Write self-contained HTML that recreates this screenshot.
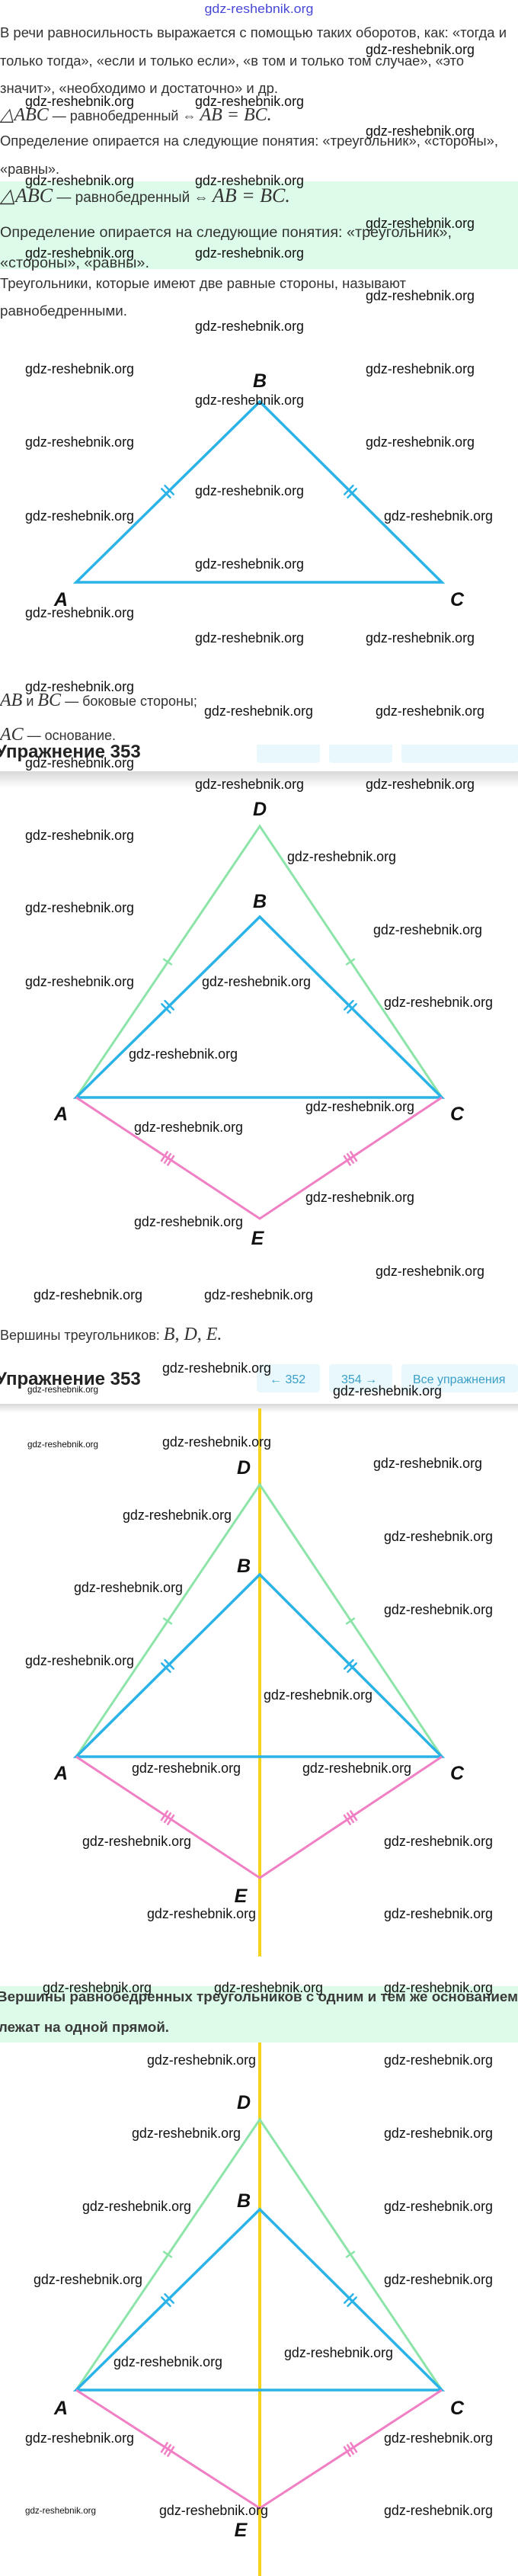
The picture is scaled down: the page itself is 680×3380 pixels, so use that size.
<!DOCTYPE html>
<html><head><meta charset="utf-8"><style>
html,body{margin:0;padding:0;background:#fff;}
svg{display:block;}
.t{font-family:"Liberation Sans",sans-serif;font-size:18px;fill:#333;}
.m{font-family:"Liberation Serif",serif;font-size:24px;font-style:italic;fill:#333;}
.w{font-family:"Liberation Sans",sans-serif;font-size:18px;fill:#111;}
.ws{font-family:"Liberation Sans",sans-serif;font-size:12px;fill:#111;}
.L{font-family:"Liberation Sans",sans-serif;font-size:25px;font-weight:bold;font-style:italic;fill:#111;}
.h{font-family:"Liberation Sans",sans-serif;font-size:24px;font-weight:bold;fill:#222;}
.b{font-family:"Liberation Sans",sans-serif;font-size:16px;fill:#3a9fc8;}
.bl{stroke:#2bb3e8;stroke-width:3.5;fill:none;stroke-linecap:round;}
.gr{stroke:#8ce4a8;stroke-width:3;fill:none;}
.pk{stroke:#f07fc4;stroke-width:3;fill:none;}
.ye{stroke:#f3d31c;stroke-width:4;}
</style></head><body>
<svg width="680" height="3380" viewBox="0 0 680 3380" xmlns="http://www.w3.org/2000/svg">
<defs>
<linearGradient id="sh" x1="0" y1="0" x2="0" y2="1"><stop offset="0" stop-color="#d8d8d8"/><stop offset="1" stop-color="#fff"/></linearGradient>
<clipPath id="c1"><rect x="0" y="977" width="680" height="40"/></clipPath>
<clipPath id="c2"><rect x="0" y="2608" width="680" height="80"/></clipPath>
</defs>

<!-- top -->
<text x="340" y="17" text-anchor="middle" textLength="143" lengthAdjust="spacingAndGlyphs" style="font-family:'Liberation Sans',sans-serif;font-size:17px;fill:#4848d8">gdz-reshebnik.org</text>
<text class="t" x="0" y="49" textLength="665" lengthAdjust="spacingAndGlyphs">В речи равносильность выражается с помощью таких оборотов, как: «тогда и</text>
<text class="t" x="0" y="86" textLength="609" lengthAdjust="spacingAndGlyphs">только тогда», «если и только если», «в том и только том случае», «это</text>
<text class="t" x="0" y="122" textLength="365" lengthAdjust="spacingAndGlyphs">значит», «необходимо и достаточно» и др.</text>
<text x="0" y="158"><tspan class="m">△ABC</tspan><tspan class="t"> — равнобедренный ⇔ </tspan><tspan class="m"> AB = BC.</tspan></text>
<text class="t" x="0" y="191" textLength="654" lengthAdjust="spacingAndGlyphs">Определение опирается на следующие понятия: «треугольник», «стороны»,</text>
<text class="t" x="0" y="228" textLength="78" lengthAdjust="spacingAndGlyphs">«равны».</text>
<rect x="0" y="238" width="680" height="115" fill="#dcfbe8"/>
<text x="0" y="265"><tspan class="m" style="font-size:26px">△ABC</tspan><tspan class="t" style="font-size:19px"> — равнобедренный ⇔ </tspan><tspan class="m" style="font-size:26px"> AB = BC.</tspan></text>
<text class="t" x="0" y="311" textLength="593" lengthAdjust="spacingAndGlyphs" style="font-size:19px">Определение опирается на следующие понятия: «треугольник»,</text>
<text class="t" x="0" y="351" textLength="196" lengthAdjust="spacingAndGlyphs" style="font-size:19px">«стороны», «равны».</text>
<text class="t" x="0" y="378" textLength="533" lengthAdjust="spacingAndGlyphs">Треугольники, которые имеют две равные стороны, называют</text>
<text class="t" x="0" y="414" textLength="167" lengthAdjust="spacingAndGlyphs">равнобедренными.</text>
<g>
<text class="w" textLength="143" lengthAdjust="spacingAndGlyphs" x="480" y="71">gdz-reshebnik.org</text>
<text class="w" textLength="143" lengthAdjust="spacingAndGlyphs" x="33" y="139">gdz-reshebnik.org</text><text class="w" textLength="143" lengthAdjust="spacingAndGlyphs" x="256" y="139">gdz-reshebnik.org</text>
<text class="w" textLength="143" lengthAdjust="spacingAndGlyphs" x="480" y="178">gdz-reshebnik.org</text>
<text class="w" textLength="143" lengthAdjust="spacingAndGlyphs" x="33" y="243">gdz-reshebnik.org</text><text class="w" textLength="143" lengthAdjust="spacingAndGlyphs" x="256" y="243">gdz-reshebnik.org</text>
<text class="w" textLength="143" lengthAdjust="spacingAndGlyphs" x="480" y="299">gdz-reshebnik.org</text>
<text class="w" textLength="143" lengthAdjust="spacingAndGlyphs" x="33" y="338">gdz-reshebnik.org</text><text class="w" textLength="143" lengthAdjust="spacingAndGlyphs" x="256" y="338">gdz-reshebnik.org</text>
<text class="w" textLength="143" lengthAdjust="spacingAndGlyphs" x="480" y="394">gdz-reshebnik.org</text>
<text class="w" textLength="143" lengthAdjust="spacingAndGlyphs" x="256" y="434">gdz-reshebnik.org</text>
</g>

<!-- diagram 1 -->
<polygon class="bl" points="100,764 341,527 580,764"/>
<g class="bl" style="stroke-width:2.5">
<g transform="translate(220,645) rotate(-44.5)"><line x1="-3" y1="-8" x2="-3" y2="8"/><line x1="3" y1="-8" x2="3" y2="8"/></g>
<g transform="translate(460,645) rotate(44.5)"><line x1="-3" y1="-8" x2="-3" y2="8"/><line x1="3" y1="-8" x2="3" y2="8"/></g>
</g>
<text class="L" x="341" y="508" text-anchor="middle">B</text>
<text class="L" x="80" y="795" text-anchor="middle">A</text>
<text class="L" x="600" y="795" text-anchor="middle">C</text>
<text class="w" textLength="143" lengthAdjust="spacingAndGlyphs" x="33" y="490">gdz-reshebnik.org</text><text class="w" textLength="143" lengthAdjust="spacingAndGlyphs" x="480" y="490">gdz-reshebnik.org</text>
<text class="w" textLength="143" lengthAdjust="spacingAndGlyphs" x="256" y="531">gdz-reshebnik.org</text>
<text class="w" textLength="143" lengthAdjust="spacingAndGlyphs" x="33" y="586">gdz-reshebnik.org</text><text class="w" textLength="143" lengthAdjust="spacingAndGlyphs" x="480" y="586">gdz-reshebnik.org</text>
<text class="w" textLength="143" lengthAdjust="spacingAndGlyphs" x="256" y="650">gdz-reshebnik.org</text>
<text class="w" textLength="143" lengthAdjust="spacingAndGlyphs" x="33" y="683">gdz-reshebnik.org</text><text class="w" textLength="143" lengthAdjust="spacingAndGlyphs" x="504" y="683">gdz-reshebnik.org</text>
<text class="w" textLength="143" lengthAdjust="spacingAndGlyphs" x="256" y="746">gdz-reshebnik.org</text>
<text class="w" textLength="143" lengthAdjust="spacingAndGlyphs" x="33" y="810">gdz-reshebnik.org</text>
<text class="w" textLength="143" lengthAdjust="spacingAndGlyphs" x="256" y="843">gdz-reshebnik.org</text><text class="w" textLength="143" lengthAdjust="spacingAndGlyphs" x="480" y="843">gdz-reshebnik.org</text>
<text class="w" textLength="143" lengthAdjust="spacingAndGlyphs" x="33" y="907">gdz-reshebnik.org</text>
<text x="0" y="926"><tspan class="m">AB</tspan><tspan class="t"> и </tspan><tspan class="m">BC</tspan><tspan class="t"> — боковые стороны;</tspan></text>
<text class="w" textLength="143" lengthAdjust="spacingAndGlyphs" x="268" y="939">gdz-reshebnik.org</text><text class="w" textLength="143" lengthAdjust="spacingAndGlyphs" x="493" y="939">gdz-reshebnik.org</text>
<text x="0" y="971"><tspan class="m">AC</tspan><tspan class="t"> — основание.</tspan></text>
<g clip-path="url(#c1)">
<text class="h" x="-6" y="994">Упражнение 353</text>
<rect x="337" y="965" width="83" height="36" rx="4" fill="#e8f8fd"/>
<rect x="432" y="965" width="83" height="36" rx="4" fill="#e8f8fd"/>
<rect x="527" y="965" width="153" height="36" rx="4" fill="#e8f8fd"/>
</g>
<text class="w" textLength="143" lengthAdjust="spacingAndGlyphs" x="33" y="1007">gdz-reshebnik.org</text>
<rect x="0" y="1012" width="680" height="22" fill="url(#sh)"/>
<text class="w" textLength="143" lengthAdjust="spacingAndGlyphs" x="256" y="1035">gdz-reshebnik.org</text><text class="w" textLength="143" lengthAdjust="spacingAndGlyphs" x="480" y="1035">gdz-reshebnik.org</text>

<!-- diagram 2 -->
<polyline class="gr" points="100,1440 341,1084 580,1440"/>
<polygon class="bl" points="100,1440 341,1203 580,1440"/>
<polyline class="pk" points="100,1440 341,1599 580,1440"/>
<g class="gr" style="stroke-width:2.5">
<g transform="translate(220,1262) rotate(-55.9)"><line x1="0" y1="-7" x2="0" y2="7"/></g>
<g transform="translate(460,1262) rotate(55.9)"><line x1="0" y1="-7" x2="0" y2="7"/></g></g>
<g class="bl" style="stroke-width:2.5">
<g transform="translate(220,1321) rotate(-44.5)"><line x1="-3" y1="-8" x2="-3" y2="8"/><line x1="3" y1="-8" x2="3" y2="8"/></g>
<g transform="translate(460,1321) rotate(44.5)"><line x1="-3" y1="-8" x2="-3" y2="8"/><line x1="3" y1="-8" x2="3" y2="8"/></g></g>
<g class="pk" style="stroke-width:2.5">
<g transform="translate(220,1520) rotate(33.4)"><line x1="-5" y1="-8" x2="-5" y2="8"/><line x1="0" y1="-8" x2="0" y2="8"/><line x1="5" y1="-8" x2="5" y2="8"/></g>
<g transform="translate(460,1520) rotate(-33.4)"><line x1="-5" y1="-8" x2="-5" y2="8"/><line x1="0" y1="-8" x2="0" y2="8"/><line x1="5" y1="-8" x2="5" y2="8"/></g></g>
<text class="L" x="341" y="1070" text-anchor="middle">D</text>
<text class="L" x="341" y="1191" text-anchor="middle">B</text>
<text class="L" x="80" y="1470" text-anchor="middle">A</text>
<text class="L" x="600" y="1470" text-anchor="middle">C</text>
<text class="L" x="338" y="1633" text-anchor="middle">E</text>
<text class="w" textLength="143" lengthAdjust="spacingAndGlyphs" x="33" y="1102">gdz-reshebnik.org</text>
<text class="w" textLength="143" lengthAdjust="spacingAndGlyphs" x="377" y="1130">gdz-reshebnik.org</text>
<text class="w" textLength="143" lengthAdjust="spacingAndGlyphs" x="33" y="1197">gdz-reshebnik.org</text>
<text class="w" textLength="143" lengthAdjust="spacingAndGlyphs" x="490" y="1226">gdz-reshebnik.org</text>
<text class="w" textLength="143" lengthAdjust="spacingAndGlyphs" x="33" y="1294">gdz-reshebnik.org</text><text class="w" textLength="143" lengthAdjust="spacingAndGlyphs" x="265" y="1294">gdz-reshebnik.org</text>
<text class="w" textLength="143" lengthAdjust="spacingAndGlyphs" x="504" y="1321">gdz-reshebnik.org</text>
<text class="w" textLength="143" lengthAdjust="spacingAndGlyphs" x="169" y="1389">gdz-reshebnik.org</text>
<text class="w" textLength="143" lengthAdjust="spacingAndGlyphs" x="401" y="1458">gdz-reshebnik.org</text>
<text class="w" textLength="143" lengthAdjust="spacingAndGlyphs" x="176" y="1485">gdz-reshebnik.org</text>
<text class="w" textLength="143" lengthAdjust="spacingAndGlyphs" x="401" y="1577">gdz-reshebnik.org</text>
<text class="w" textLength="143" lengthAdjust="spacingAndGlyphs" x="176" y="1609">gdz-reshebnik.org</text>
<text class="w" textLength="143" lengthAdjust="spacingAndGlyphs" x="493" y="1674">gdz-reshebnik.org</text>
<text class="w" textLength="143" lengthAdjust="spacingAndGlyphs" x="44" y="1705">gdz-reshebnik.org</text><text class="w" textLength="143" lengthAdjust="spacingAndGlyphs" x="268" y="1705">gdz-reshebnik.org</text>
<text x="0" y="1758"><tspan class="t">Вершины треугольников: </tspan><tspan class="m">B, D, E.</tspan></text>

<!-- header 2 -->
<text class="h" x="-6" y="1817">Упражнение 353</text>
<rect x="337" y="1790" width="83" height="37" rx="4" fill="#e8f8fd"/>
<rect x="432" y="1790" width="83" height="37" rx="4" fill="#e8f8fd"/>
<rect x="527" y="1790" width="153" height="37" rx="4" fill="#e8f8fd"/>
<text class="b" x="354" y="1815">←  352</text>
<text class="b" x="448" y="1815">354  →</text>
<text class="b" x="542" y="1815">Все упражнения</text>
<text class="w" textLength="143" lengthAdjust="spacingAndGlyphs" x="213" y="1801">gdz-reshebnik.org</text>
<text class="w" textLength="143" lengthAdjust="spacingAndGlyphs" x="437" y="1831">gdz-reshebnik.org</text>
<text class="ws" textLength="93" lengthAdjust="spacingAndGlyphs" x="36" y="1827">gdz-reshebnik.org</text>
<rect x="0" y="1842" width="680" height="12" fill="url(#sh)"/>

<!-- diagram 3 -->
<line class="ye" x1="341" y1="1848" x2="341" y2="2567"/>
<polyline class="gr" points="100,2305 341,1948 580,2305"/>
<polygon class="bl" points="100,2305 341,2066 580,2305"/>
<polyline class="pk" points="100,2305 341,2464 580,2305"/>
<g class="gr" style="stroke-width:2.5">
<g transform="translate(220,2127) rotate(-56)"><line x1="0" y1="-7" x2="0" y2="7"/></g>
<g transform="translate(460,2127) rotate(56)"><line x1="0" y1="-7" x2="0" y2="7"/></g></g>
<g class="bl" style="stroke-width:2.5">
<g transform="translate(220,2186) rotate(-44.8)"><line x1="-3" y1="-8" x2="-3" y2="8"/><line x1="3" y1="-8" x2="3" y2="8"/></g>
<g transform="translate(460,2186) rotate(44.8)"><line x1="-3" y1="-8" x2="-3" y2="8"/><line x1="3" y1="-8" x2="3" y2="8"/></g></g>
<g class="pk" style="stroke-width:2.5">
<g transform="translate(220,2385) rotate(33.4)"><line x1="-5" y1="-8" x2="-5" y2="8"/><line x1="0" y1="-8" x2="0" y2="8"/><line x1="5" y1="-8" x2="5" y2="8"/></g>
<g transform="translate(460,2385) rotate(-33.4)"><line x1="-5" y1="-8" x2="-5" y2="8"/><line x1="0" y1="-8" x2="0" y2="8"/><line x1="5" y1="-8" x2="5" y2="8"/></g></g>
<text class="L" x="320" y="1934" text-anchor="middle">D</text>
<text class="L" x="320" y="2063" text-anchor="middle">B</text>
<text class="L" x="80" y="2335" text-anchor="middle">A</text>
<text class="L" x="600" y="2335" text-anchor="middle">C</text>
<text class="L" x="316" y="2496" text-anchor="middle">E</text>
<text class="ws" textLength="93" lengthAdjust="spacingAndGlyphs" x="36" y="1899">gdz-reshebnik.org</text>
<text class="w" textLength="143" lengthAdjust="spacingAndGlyphs" x="213" y="1898">gdz-reshebnik.org</text>
<text class="w" textLength="143" lengthAdjust="spacingAndGlyphs" x="490" y="1926">gdz-reshebnik.org</text>
<text class="w" textLength="143" lengthAdjust="spacingAndGlyphs" x="161" y="1994">gdz-reshebnik.org</text>
<text class="w" textLength="143" lengthAdjust="spacingAndGlyphs" x="504" y="2022">gdz-reshebnik.org</text>
<text class="w" textLength="143" lengthAdjust="spacingAndGlyphs" x="97" y="2089">gdz-reshebnik.org</text>
<text class="w" textLength="143" lengthAdjust="spacingAndGlyphs" x="504" y="2118">gdz-reshebnik.org</text>
<text class="w" textLength="143" lengthAdjust="spacingAndGlyphs" x="33" y="2185">gdz-reshebnik.org</text>
<text class="w" textLength="143" lengthAdjust="spacingAndGlyphs" x="346" y="2230">gdz-reshebnik.org</text>
<text class="w" textLength="143" lengthAdjust="spacingAndGlyphs" x="173" y="2326">gdz-reshebnik.org</text><text class="w" textLength="143" lengthAdjust="spacingAndGlyphs" x="397" y="2326">gdz-reshebnik.org</text>
<text class="w" textLength="143" lengthAdjust="spacingAndGlyphs" x="108" y="2422">gdz-reshebnik.org</text><text class="w" textLength="143" lengthAdjust="spacingAndGlyphs" x="504" y="2422">gdz-reshebnik.org</text>
<text class="w" textLength="143" lengthAdjust="spacingAndGlyphs" x="193" y="2517">gdz-reshebnik.org</text><text class="w" textLength="143" lengthAdjust="spacingAndGlyphs" x="504" y="2517">gdz-reshebnik.org</text>

<!-- box 2 -->
<rect x="0" y="2601" width="680" height="79" fill="#dcfbe8"/>
<g clip-path="url(#c2)">
<text class="t" x="-4" y="2626" textLength="684" lengthAdjust="spacingAndGlyphs" style="font-weight:bold;fill:#3a3a3a">Вершины равнобедренных треугольников с одним и тем же основанием</text>
</g>
<text class="t" x="-2" y="2666" textLength="224" lengthAdjust="spacingAndGlyphs" style="font-weight:bold;fill:#3a3a3a">лежат на одной прямой.</text>
<rect x="0" y="2596" width="680" height="10" fill="#fff"/>
<text class="w" textLength="143" lengthAdjust="spacingAndGlyphs" x="56" y="2614">gdz-reshebnik.org</text><text class="w" textLength="143" lengthAdjust="spacingAndGlyphs" x="281" y="2614">gdz-reshebnik.org</text><text class="w" textLength="143" lengthAdjust="spacingAndGlyphs" x="504" y="2614">gdz-reshebnik.org</text>

<!-- diagram 4 -->
<line class="ye" x1="341" y1="2680" x2="341" y2="3380"/>
<polyline class="gr" points="100,3136 341,2781 580,3136"/>
<polygon class="bl" points="100,3136 341,2899 580,3136"/>
<polyline class="pk" points="100,3136 341,3291 580,3136"/>
<g class="gr" style="stroke-width:2.5">
<g transform="translate(220,2958) rotate(-55.8)"><line x1="0" y1="-7" x2="0" y2="7"/></g>
<g transform="translate(460,2958) rotate(55.8)"><line x1="0" y1="-7" x2="0" y2="7"/></g></g>
<g class="bl" style="stroke-width:2.5">
<g transform="translate(220,3018) rotate(-44.5)"><line x1="-3" y1="-8" x2="-3" y2="8"/><line x1="3" y1="-8" x2="3" y2="8"/></g>
<g transform="translate(460,3018) rotate(44.5)"><line x1="-3" y1="-8" x2="-3" y2="8"/><line x1="3" y1="-8" x2="3" y2="8"/></g></g>
<g class="pk" style="stroke-width:2.5">
<g transform="translate(220,3214) rotate(32.7)"><line x1="-5" y1="-8" x2="-5" y2="8"/><line x1="0" y1="-8" x2="0" y2="8"/><line x1="5" y1="-8" x2="5" y2="8"/></g>
<g transform="translate(460,3214) rotate(-32.7)"><line x1="-5" y1="-8" x2="-5" y2="8"/><line x1="0" y1="-8" x2="0" y2="8"/><line x1="5" y1="-8" x2="5" y2="8"/></g></g>
<text class="L" x="320" y="2767" text-anchor="middle">D</text>
<text class="L" x="320" y="2896" text-anchor="middle">B</text>
<text class="L" x="80" y="3168" text-anchor="middle">A</text>
<text class="L" x="600" y="3168" text-anchor="middle">C</text>
<text class="L" x="316" y="3328" text-anchor="middle">E</text>
<text class="w" textLength="143" lengthAdjust="spacingAndGlyphs" x="193" y="2709">gdz-reshebnik.org</text><text class="w" textLength="143" lengthAdjust="spacingAndGlyphs" x="504" y="2709">gdz-reshebnik.org</text>
<text class="w" textLength="143" lengthAdjust="spacingAndGlyphs" x="173" y="2805">gdz-reshebnik.org</text><text class="w" textLength="143" lengthAdjust="spacingAndGlyphs" x="504" y="2805">gdz-reshebnik.org</text>
<text class="w" textLength="143" lengthAdjust="spacingAndGlyphs" x="108" y="2901">gdz-reshebnik.org</text><text class="w" textLength="143" lengthAdjust="spacingAndGlyphs" x="504" y="2901">gdz-reshebnik.org</text>
<text class="w" textLength="143" lengthAdjust="spacingAndGlyphs" x="44" y="2997">gdz-reshebnik.org</text><text class="w" textLength="143" lengthAdjust="spacingAndGlyphs" x="504" y="2997">gdz-reshebnik.org</text>
<text class="w" textLength="143" lengthAdjust="spacingAndGlyphs" x="373" y="3093">gdz-reshebnik.org</text>
<text class="w" textLength="143" lengthAdjust="spacingAndGlyphs" x="149" y="3105">gdz-reshebnik.org</text>
<text class="w" textLength="143" lengthAdjust="spacingAndGlyphs" x="33" y="3205">gdz-reshebnik.org</text><text class="w" textLength="143" lengthAdjust="spacingAndGlyphs" x="504" y="3205">gdz-reshebnik.org</text>
<text class="ws" textLength="93" lengthAdjust="spacingAndGlyphs" x="33" y="3298">gdz-reshebnik.org</text>
<text class="w" textLength="143" lengthAdjust="spacingAndGlyphs" x="209" y="3300">gdz-reshebnik.org</text><text class="w" textLength="143" lengthAdjust="spacingAndGlyphs" x="504" y="3300">gdz-reshebnik.org</text>
</svg>
</body></html>
